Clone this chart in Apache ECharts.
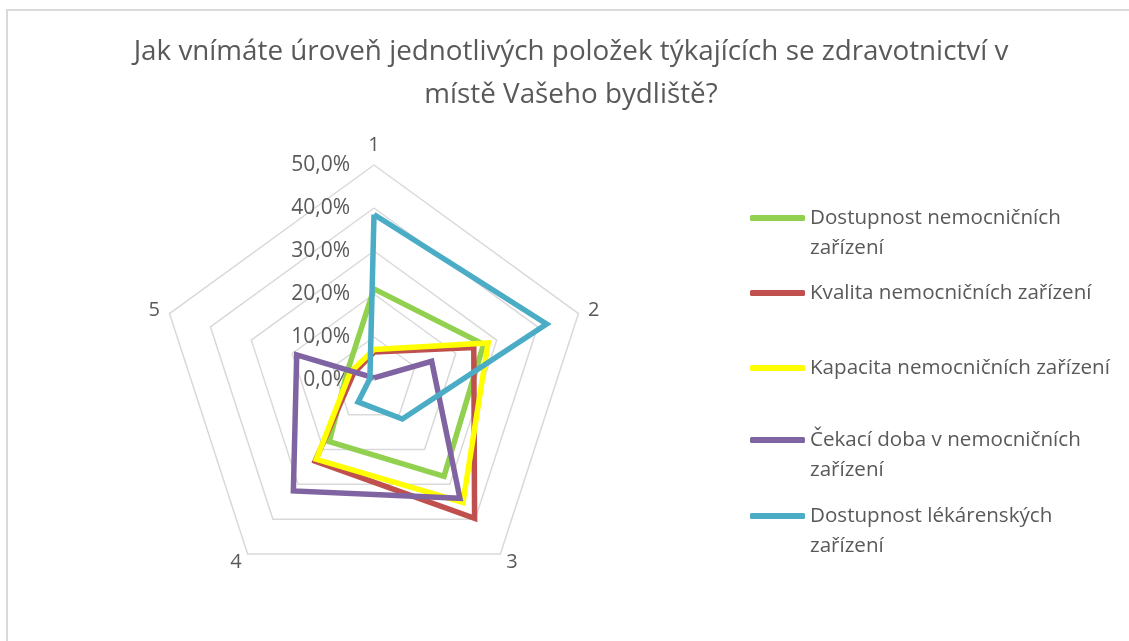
<!DOCTYPE html>
<html>
<head>
<meta charset="utf-8">
<script src="https://cdn.jsdelivr.net/npm/echarts@6/dist/echarts.min.js"></script>
<style>
  html, body { margin: 0; padding: 0; background: #fff; }
  #container { width: 1129px; height: 641px; }
</style>
</head>
<body>
<div id="container"></div>
<script>
var dom = document.getElementById('container');
var myChart = echarts.init(dom, null, { renderer: 'canvas' });

// axis labels (clockwise from the top)
const categories = ['1', '2', '3', '4', '5'];
const seriesNames = [
  'Dostupnost nemocničních\nzařízení',
  'Kvalita nemocničních zařízení',
  'Kapacita nemocničních zařízení',
  'Čekací doba v nemocničních\nzařízení',
  'Dostupnost lékárenských\nzařízení'
];
// values in %
const dostupnostNem = [21.2, 26.8, 27.7, 17.7, 6.5];
const kvalitaNem = [6.5, 24.4, 39.8, 23.3, 5.0];
const kapacitaNem = [7.1, 27.9, 35.2, 22.8, 5.8];
const cekaciDoba = [0.5, 14.1, 34.0, 31.9, 18.9];
const dostupnostLek = [38.5, 42.2, 11.2, 6.3, 1.0];
const tickLabels = ['0,0%', '10,0%', '20,0%', '30,0%', '40,0%', '50,0%'];

const colors = ['#92D050', '#C0504D', '#FFFF00', '#8064A2', '#4BACC6'];
const allValues = [dostupnostNem, kvalitaNem, kapacitaNem, cekaciDoba, dostupnostLek];

// echarts lays indicators out counter-clockwise, so flip the order after the first one
const order = [0, 4, 3, 2, 1];

const font = 'Open Sans';
const textColor = '#595959';

const legendY = [218, 293, 368, 440, 516];
const lh = 30;

var option = {
  textStyle: { fontFamily: font },
  title: {
    text: 'Jak vnímáte úroveň jednotlivých položek týkajících se zdravotnictví v\nmístě Vašeho bydliště?',
    left: 571,
    textAlign: 'center',
    top: 31,
    padding: 0,
    textStyle: {
      fontFamily: font,
      fontWeight: 'normal',
      fontSize: 27.8,
      lineHeight: 43,
      color: textColor
    }
  },
  legend: seriesNames.map(function (name, i) {
    const twoLines = name.indexOf('\n') >= 0;
    return {
      orient: 'vertical',
      left: 750,
      top: legendY[i] - (twoLines ? 1.5 * lh : 0.5 * lh),
      padding: 0,
      itemWidth: 55,
      itemHeight: 6,
      icon: 'roundRect',
      data: [name],
      // blank first line keeps the icon level with the first text line
      formatter: function (n) { return twoLines ? '\n' + n : n; },
      textStyle: {
        fontFamily: font,
        fontSize: 20.6,
        lineHeight: lh,
        color: textColor
      }
    };
  }),
  radar: {
    center: [374, 380],
    radius: 215,
    startAngle: 90,
    shape: 'polygon',
    splitNumber: 5,
    nameGap: 10,
    axisName: {
      color: textColor,
      fontFamily: font,
      fontSize: 20
    },
    indicator: order.map(function (k, j) {
      const ind = { name: categories[k], min: 0, max: 50 };
      if (j === 0) {
        ind.axisLabel = {
          show: true,
          showMinLabel: true,
          color: textColor,
          fontFamily: font,
          fontSize: 21,
          margin: 24,
          formatter: function (v) {
            return tickLabels[Math.round(v / 10)];
          }
        };
      }
      return ind;
    }),
    axisLabel: { show: false },
    axisLine: { show: false },
    axisTick: { show: false },
    splitArea: { show: false },
    splitLine: { lineStyle: { color: '#D9D9D9', width: 1.5 } }
  },
  series: [
    {
      type: 'radar',
      symbol: 'none',
      data: allValues.map(function (vals, i) {
        return {
          name: seriesNames[i],
          value: order.map(function (k) { return vals[k]; }),
          lineStyle: { color: colors[i], width: 5.5, join: 'miter' },
          itemStyle: { color: colors[i] }
        };
      })
    }
  ],
  graphic: [
    {
      type: 'polyline',
      shape: { points: [[7, 641], [7, 10], [1129, 10]] },
      style: { stroke: '#D9D9D9', lineWidth: 2, fill: null },
      silent: true
    }
  ]
};

myChart.setOption(option);
window.addEventListener('resize', myChart.resize);
</script>
</body>
</html>
